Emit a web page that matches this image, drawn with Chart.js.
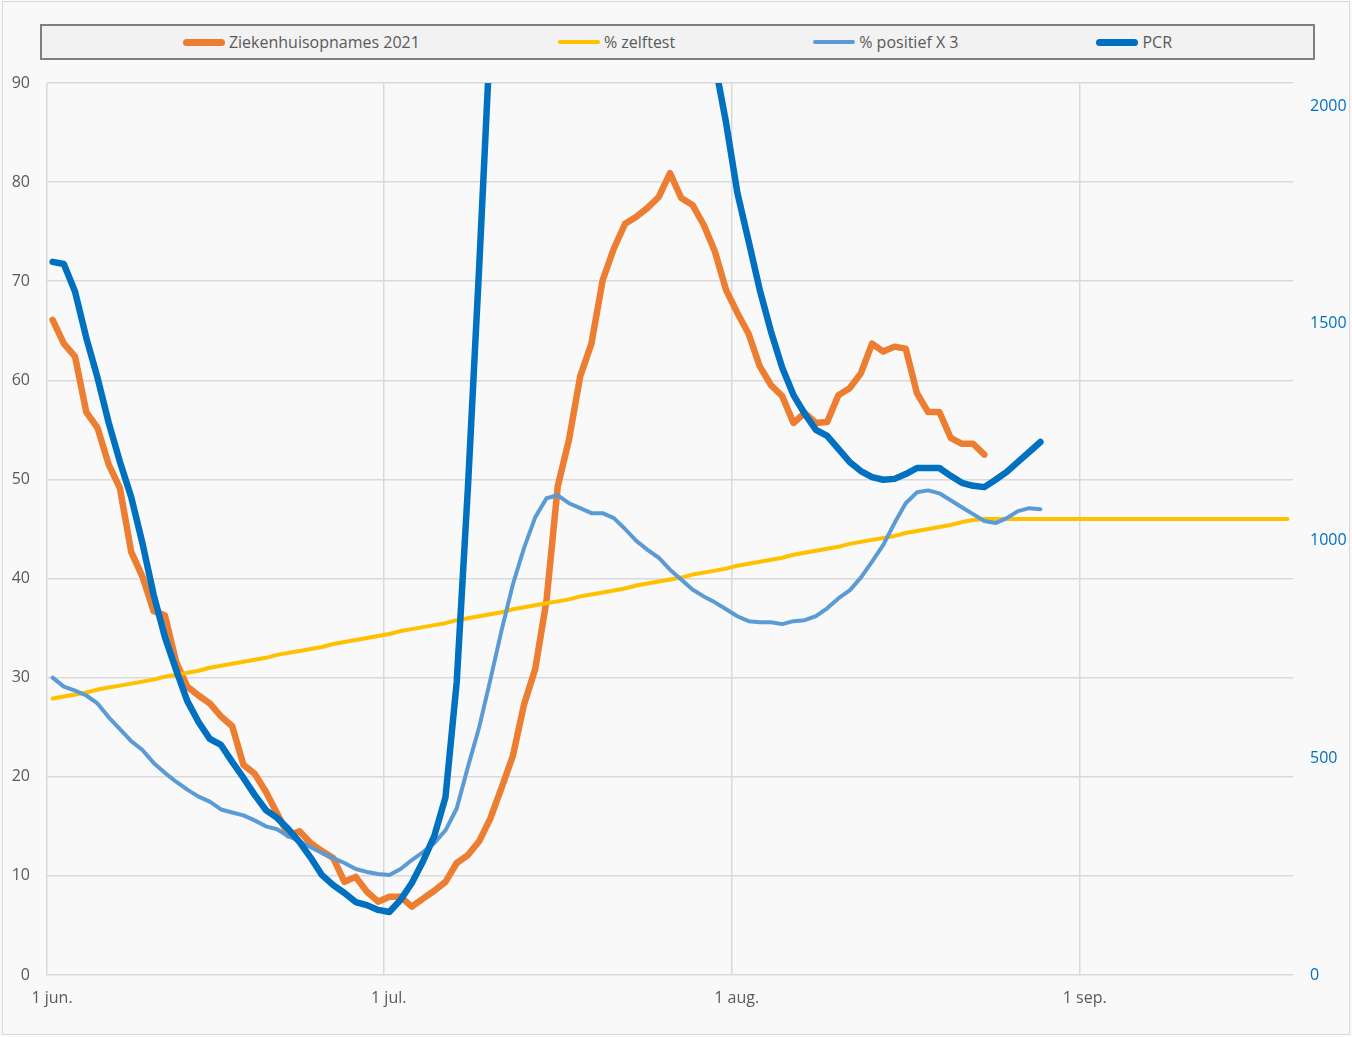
<!DOCTYPE html>
<html>
<head>
<meta charset="utf-8">
<script src="https://cdn.jsdelivr.net/npm/chart.js@4.4.1/dist/chart.umd.min.js"></script>
<style>
  body { margin: 0; background: #ffffff; }
  #wrap { position: relative; width: 1352px; height: 1037px; background: #f9f9f9; }
  #frame { position: absolute; left: 2px; top: 1px; right: 2px; bottom: 2px; border: 1px solid #d9d9d9; pointer-events: none; }
  #chart { position: absolute; left: 0; top: 0; }
  #legend {
    position: absolute; left: 40px; top: 24px; width: 1275px; height: 36px;
    box-sizing: border-box; border: 2px solid #7f7f7f; background: #f2f2f2;
    display: flex; justify-content: center; align-items: center; gap: 138px;
    font: 16px "Open Sans", sans-serif; color: #595959;
  }
  .item { display: flex; align-items: center; white-space: nowrap; }
  .swatch { display: inline-block; width: 42px; border-radius: 4px; margin-right: 4px; }
</style>
</head>
<body>
<div id="wrap">
  <canvas id="chart" width="1352" height="1037"></canvas>
  <div id="legend"></div>
  <div id="frame"></div>
</div>
<script>
// x axis: days since 1 jun.
const tickDays = [0, 30, 61, 92];
const tickLabels = ["1 jun.", "1 jul.", "1 aug.", "1 sep."];

// left axis
const ziekenhuisopnames = [
  66.1, 63.7, 62.4, 56.8, 55.2, 51.5, 49.1, 42.7, 40.2, 36.7,
  36.3, 31.6, 29.1, 28.2, 27.4, 26.1, 25.1, 21.2, 20.3, 18.5,
  16.3, 14.1, 14.5, 13.3, 12.5, 11.8, 9.4, 9.9, 8.4, 7.4,
  7.9, 7.9, 6.9, 7.7, 8.5, 9.4, 11.3, 12.1, 13.5, 15.8,
  18.9, 22.1, 27.3, 30.9, 37.8, 49.3, 54.0, 60.4, 63.7, 70.1,
  73.3, 75.8, 76.5, 77.4, 78.5, 80.9, 78.4, 77.7, 75.7, 73.0,
  69.1, 66.8, 64.7, 61.4, 59.5, 58.4, 55.7, 56.7, 55.7, 55.8,
  58.5, 59.2, 60.7, 63.7, 62.9, 63.4, 63.2, 58.7, 56.8, 56.8,
  54.2, 53.6, 53.6, 52.5
];

const zelftest = [
  27.9, 28.1, 28.3, 28.5, 28.8, 29.0, 29.2, 29.4, 29.6, 29.8,
  30.1, 30.3, 30.5, 30.7, 31.0, 31.2, 31.4, 31.6, 31.8, 32.0,
  32.3, 32.5, 32.7, 32.9, 33.1, 33.4, 33.6, 33.8, 34.0, 34.2,
  34.4, 34.7, 34.9, 35.1, 35.3, 35.5, 35.8, 36.0, 36.2, 36.4,
  36.6, 36.9, 37.1, 37.3, 37.5, 37.7, 37.9, 38.2, 38.4, 38.6,
  38.8, 39.0, 39.3, 39.5, 39.7, 39.9, 40.1, 40.4, 40.6, 40.8,
  41.0, 41.3, 41.5, 41.7, 41.9, 42.1, 42.4, 42.6, 42.8, 43.0,
  43.2, 43.5, 43.7, 43.9, 44.1, 44.3, 44.6, 44.8, 45.0, 45.2,
  45.4, 45.7, 45.9, 46.0, 46.0, 46.0, 46.0, 46.0, 46.0, 46.0,
  46.0, 46.0, 46.0, 46.0, 46.0, 46.0, 46.0, 46.0, 46.0, 46.0,
  46.0, 46.0, 46.0, 46.0, 46.0, 46.0, 46.0, 46.0, 46.0, 46.0,
  46.0
];

const positiefX3 = [
  30.0, 29.1, 28.7, 28.2, 27.4, 26.0, 24.8, 23.6, 22.7, 21.4,
  20.4, 19.5, 18.7, 18.0, 17.5, 16.7, 16.4, 16.1, 15.6, 15.0,
  14.7, 14.0, 13.5, 12.9, 12.3, 11.8, 11.3, 10.7, 10.4, 10.2,
  10.1, 10.7, 11.6, 12.4, 13.3, 14.6, 16.8, 21.0, 25.0, 29.8,
  34.8, 39.4, 43.1, 46.2, 48.1, 48.4, 47.6, 47.1, 46.6, 46.6,
  46.1, 45.0, 43.8, 42.9, 42.1, 40.9, 39.9, 38.9, 38.2, 37.6,
  36.9, 36.2, 35.7, 35.6, 35.6, 35.4, 35.7, 35.8, 36.2, 37.0,
  38.0, 38.8, 40.1, 41.7, 43.4, 45.6, 47.6, 48.7, 48.9, 48.6,
  47.9, 47.2, 46.5, 45.8, 45.6, 46.1, 46.8, 47.1, 47.0
];

// right axis
const pcr = [
  1643, 1638, 1574, 1468, 1376, 1272, 1182, 1101, 995, 876,
  779, 703, 631, 583, 544, 530, 491, 454, 415, 380,
  362, 336, 306, 270, 230, 207, 189, 168, 161, 150,
  145, 173, 212, 262, 320, 410, 675, 1124, 1631, 2170,
  2900, 3700, 4500, 5200, 5800, 6300, 6600, 6800, 6900, 6800,
  6600, 6300, 5900, 5400, 4800, 4200, 3500, 2900, 2450, 2100,
  1963, 1802, 1691, 1578, 1482, 1399, 1336, 1293, 1256, 1242,
  1212, 1182, 1161, 1147, 1141, 1143, 1154, 1168, 1168, 1168,
  1150, 1134, 1127, 1124, 1141, 1159, 1182, 1205, 1228
];
const pcrTicks = [0, 500, 1000, 1500, 2000];

const gridColor = "#d9d9d9";
const labelColor = "#595959";

Chart.defaults.font.family = "'Open Sans', sans-serif";
Chart.defaults.font.size = 16;

/**
 * Excel puts each day in the middle of its slot.
 */
function toPoints(values) {
  return values.map((v, i) => ({ x: i + 0.5, y: v }));
}

const datasets = [
  { label: "Ziekenhuisopnames 2021", data: toPoints(ziekenhuisopnames), borderColor: "#ED7D31", borderWidth: 6.5, yAxisID: "y", order: 3 },
  { label: "% zelftest", data: toPoints(zelftest), borderColor: "#FFC000", borderWidth: 4, yAxisID: "y", order: 2 },
  { label: "% positief X 3", data: toPoints(positiefX3), borderColor: "#5B9BD5", borderWidth: 4, yAxisID: "y", order: 1 },
  { label: "PCR", data: toPoints(pcr), borderColor: "#0070C0", borderWidth: 6.5, yAxisID: "y1", order: 0, clip: 0 }
];

new Chart(document.getElementById("chart"), {
  type: "line",
  data: { datasets },
  options: {
    responsive: false,
    animation: false,
    layout: { padding: { top: 83, left: 0, right: 0, bottom: 0 } },
    plugins: { legend: { display: false }, tooltip: { enabled: false } },
    elements: {
      point: { radius: 0 },
      line: { tension: 0, borderJoinStyle: "round", borderCapStyle: "round" }
    },
    scales: {
      x: {
        type: "linear",
        min: 0,
        max: 111,
        afterBuildTicks: (s) => { s.ticks = tickDays.map((v) => ({ value: v })); },
        afterFit: (s) => { s.height = 62; },
        ticks: {
          autoSkip: false,
          maxRotation: 0,
          color: labelColor,
          padding: 14,
          labelOffset: 5,
          callback: (v) => tickLabels[tickDays.indexOf(v)]
        },
        grid: { color: gridColor, lineWidth: 1.5, drawTicks: false },
        border: { display: false }
      },
      y: {
        position: "left",
        min: 0,
        max: 90,
        afterFit: (s) => { s.width = 47; },
        ticks: { stepSize: 10, color: labelColor, padding: 17 },
        grid: { color: gridColor, lineWidth: 1.5, drawTicks: false },
        border: { display: false }
      },
      y1: {
        position: "right",
        min: 0,
        max: 2055,
        afterBuildTicks: (s) => { s.ticks = pcrTicks.map((v) => ({ value: v })); },
        afterFit: (s) => { s.width = 59; },
        ticks: { color: "#0070C0", padding: 17, callback: (v) => String(v) },
        grid: { drawOnChartArea: false, drawTicks: false },
        border: { display: false }
      }
    }
  }
});

// legend as html, same order as the datasets
const legend = document.getElementById("legend");
datasets.forEach((ds) => {
  const item = document.createElement("span");
  item.className = "item";
  const sw = document.createElement("span");
  sw.className = "swatch";
  sw.style.height = Math.round(ds.borderWidth) + "px";
  sw.style.background = ds.borderColor;
  item.appendChild(sw);
  item.appendChild(document.createTextNode(ds.label));
  legend.appendChild(item);
});
</script>
</body>
</html>
